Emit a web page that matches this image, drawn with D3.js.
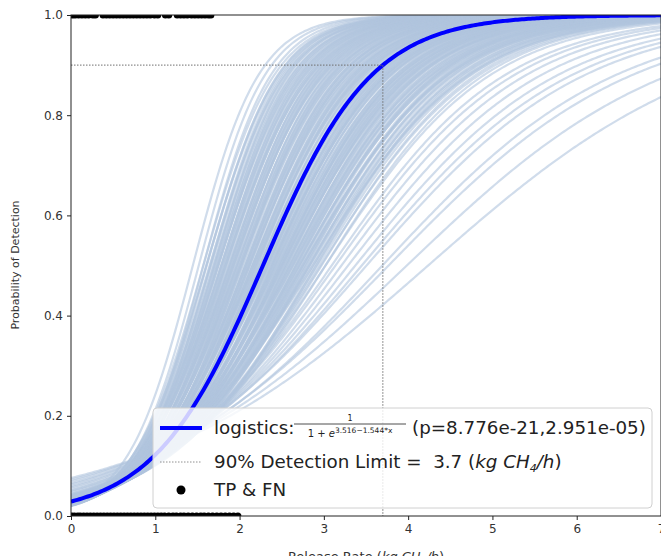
<!DOCTYPE html>
<html>
<head>
<meta charset="utf-8">
<script src="https://cdn.jsdelivr.net/npm/d3@7"></script>
<style>
  html, body { margin: 0; padding: 0; background: #fff; }
  svg { display: block; font-family: "DejaVu Sans", sans-serif; }
</style>
</head>
<body>
<svg id="chart" width="661" height="556"></svg>
<script>
// Axis ticks
const xTicks = [0, 1, 2, 3, 4, 5, 6, 7];
const yTicks = [0.0, 0.2, 0.4, 0.6, 0.8, 1.0];

// Fitted logistic model p = 1 / (1 + e^(a - b*x))
const fitIntercept = 3.516;
const fitSlope = 1.544;
const pValues = ["8.776e-21", "2.951e-05"];
const detectionLevel = 0.9;
const detectionLimit = 3.7;

// Release rates (kg CH4/h) of detected (TP) and missed (FN) releases
const detectedRates = [0.02, 0.05, 0.09, 0.13, 0.17, 0.21, 0.26, 0.29, 0.38, 0.42, 0.46, 0.50,
  0.54, 0.58, 0.62, 0.66, 0.70, 0.74, 0.78, 0.82, 0.86, 0.90, 0.94, 0.99, 1.03,
  1.12, 1.16, 1.26, 1.30, 1.34, 1.38, 1.43, 1.47, 1.51, 1.55, 1.59, 1.63, 1.66];
const missedRates = [0.01, 0.04, 0.08, 0.11, 0.15, 0.19, 0.23, 0.27, 0.31, 0.35, 0.39, 0.43,
  0.47, 0.51, 0.55, 0.59, 0.63, 0.67, 0.71, 0.75, 0.79, 0.83, 0.87, 0.91, 0.95,
  0.99, 1.03, 1.07, 1.11, 1.16, 1.21, 1.25, 1.30, 1.34, 1.39, 1.44, 1.49, 1.54,
  1.58, 1.63, 1.68, 1.73, 1.78, 1.83, 1.88, 1.93, 1.98];

// Bootstrap refits of the logistic model [intercept a, slope b], first resample set
const bootstrapFitsA = [
  [3.70, 2.56], [3.85, 2.54],
  [3.91, 2.49], [3.72, 2.37], [3.82, 2.37], [3.66, 2.28], [3.83, 2.31], [3.74, 2.25],
  [3.88, 2.28], [3.69, 2.18], [3.85, 2.22], [3.66, 2.13], [3.76, 2.15], [3.61, 2.07],
  [3.78, 2.12], [3.69, 2.07], [3.83, 2.11], [3.65, 2.03], [3.80, 2.07], [3.62, 1.99],
  [3.72, 2.01], [3.57, 1.95], [3.74, 1.99],
  [3.65, 1.95], [3.79, 1.98], [3.61, 1.91], [3.76, 1.95], [3.58, 1.88], [3.68, 1.90],
  [3.53, 1.84], [3.70, 1.88], [3.61, 1.84], [3.75, 1.87], [3.57, 1.80], [3.72, 1.84],
  [3.54, 1.77], [3.64, 1.79], [3.49, 1.73], [3.66, 1.77], [3.57, 1.74], [3.71, 1.77],
  [3.53, 1.70], [3.68, 1.74], [3.50, 1.68], [3.60, 1.70], [3.45, 1.64], [3.62, 1.68],
  [3.53, 1.65], [3.67, 1.68], [3.49, 1.62], [3.64, 1.65], [3.46, 1.59], [3.56, 1.61],
  [3.41, 1.56], [3.58, 1.60], [3.49, 1.56], [3.63, 1.59], [3.45, 1.53], [3.60, 1.57],
  [3.42, 1.51], [3.52, 1.53], [3.37, 1.48], [3.54, 1.52], [3.45, 1.49], [3.59, 1.51],
  [3.41, 1.46], [3.56, 1.49], [3.38, 1.44], [3.48, 1.46], [3.33, 1.41], [3.50, 1.45],
  [3.41, 1.42], [3.55, 1.44], [3.37, 1.39], [3.52, 1.42], [3.34, 1.37], [3.44, 1.39],
  [3.29, 1.34], [3.46, 1.38], [3.37, 1.35], [3.51, 1.38], [3.33, 1.33], [3.48, 1.36],
  [3.30, 1.31], [3.40, 1.33], [3.25, 1.28], [3.42, 1.32], [3.33, 1.29], [3.47, 1.32],
  [3.28, 1.26], [3.44, 1.29], [3.25, 1.24], [3.35, 1.25], [3.19, 1.21], [3.37, 1.24],
  [3.27, 1.21], [3.41, 1.24], [3.22, 1.19], [3.38, 1.21], [3.19, 1.16], [3.29, 1.18],
  [3.13, 1.14], [3.31, 1.17], [3.21, 1.14], [3.35, 1.16], [3.16, 1.11], [3.32, 1.14],
  [3.13, 1.09], [3.23, 1.11], [3.07, 1.07], [3.24, 1.09], [3.14, 1.06], [3.20, 1.06],
  [3.08, 1.02],
  [3.00, 0.97], [2.95, 0.94], [2.92, 0.91], [2.86, 0.87], [2.80, 0.83], [2.76, 0.80],
  [2.70, 0.77], [2.66, 0.72], [2.60, 0.69], [2.55, 0.64], [2.50, 0.59]
];

// Second resample set
const bootstrapFitsB = [
  [3.74, 2.33], [3.86, 2.34], [3.67, 2.23], [3.80, 2.25], [3.75, 2.19], [3.85, 2.20],
  [3.66, 2.10], [3.74, 2.10], [3.66, 2.04], [3.78, 2.05], [3.59, 1.96], [3.72, 1.98],
  [3.67, 1.94], [3.77, 1.94], [3.58, 1.86], [3.66, 1.86], [3.58, 1.81], [3.70, 1.83],
  [3.51, 1.75], [3.64, 1.76], [3.59, 1.73], [3.69, 1.74], [3.50, 1.66], [3.58, 1.66],
  [3.50, 1.62], [3.62, 1.64], [3.43, 1.57], [3.56, 1.59], [3.51, 1.55], [3.61, 1.57],
  [3.42, 1.50], [3.50, 1.50], [3.42, 1.47], [3.54, 1.48], [3.35, 1.42], [3.48, 1.44],
  [3.43, 1.41], [3.53, 1.42], [3.34, 1.36], [3.42, 1.37], [3.34, 1.33], [3.46, 1.35],
  [3.27, 1.29], [3.40, 1.31], [3.35, 1.29], [3.45, 1.30], [3.26, 1.24], [3.34, 1.25],
  [3.26, 1.22], [3.38, 1.24], [3.19, 1.18], [3.32, 1.20], [3.27, 1.18], [3.30, 1.17],
  [3.17, 1.12], [3.23, 1.10]
];

const bootstrapFits = bootstrapFitsA.concat(bootstrapFitsB);

const svg = d3.select("#chart");
const x = d3.scaleLinear().domain([0, 7]).range([71, 661]);
const y = d3.scaleLinear().domain([0, 1]).range([516, 15]);

const logistic = (a, b) => xv => 1 / (1 + Math.exp(a - b * xv));
const samples = d3.range(0, 7.0001, 0.025);
const curve = (a, b) => samples.map(xv => [xv, logistic(a, b)(xv)]);
const line = d3.line().x(d => x(d[0])).y(d => y(d[1]));

svg.append("defs").append("clipPath").attr("id", "plot-clip")
  .append("rect").attr("x", 71).attr("y", 15).attr("width", 590).attr("height", 501);

const plot = svg.append("g").attr("clip-path", "url(#plot-clip)");

// Bootstrap curves
plot.append("g").selectAll("path").data(bootstrapFits).join("path")
  .attr("d", d => line(curve(d[0], d[1])))
  .attr("fill", "none")
  .attr("stroke", "#b0c4de")
  .attr("stroke-opacity", 0.6)
  .attr("stroke-width", 2.2);

// Fitted curve
plot.append("path")
  .attr("d", line(curve(fitIntercept, fitSlope)))
  .attr("fill", "none")
  .attr("stroke", "#0000ff")
  .attr("stroke-width", 4);

// 90% detection guide lines
plot.append("path")
  .attr("d", line([[0, detectionLevel], [detectionLimit, detectionLevel], [detectionLimit, 0]]))
  .attr("fill", "none")
  .attr("stroke", "#707070")
  .attr("stroke-width", 1)
  .attr("stroke-dasharray", "1.5,1.5");

// Observations
plot.append("g").selectAll("circle")
  .data(detectedRates.map(r => [r, 1]).concat(missedRates.map(r => [r, 0])))
  .join("circle")
  .attr("cx", d => x(d[0]))
  .attr("cy", d => y(d[1]))
  .attr("r", 3.5)
  .attr("fill", "#000");

// Frame
svg.append("rect").attr("x", 71).attr("y", 15).attr("width", 590).attr("height", 501)
  .attr("fill", "none").attr("stroke", "#222").attr("stroke-width", 1);

// Axes
const xAxis = svg.append("g").attr("transform", "translate(0,516)")
  .call(d3.axisBottom(x).tickValues(xTicks).tickFormat(d3.format("d")).tickSize(4).tickPadding(4));
const yAxis = svg.append("g").attr("transform", "translate(71,0)")
  .call(d3.axisLeft(y).tickValues(yTicks).tickFormat(d3.format(".1f")).tickSize(4).tickPadding(4));
[xAxis, yAxis].forEach(g => {
  g.select(".domain").remove();
  g.selectAll("line").attr("stroke", "#222");
  g.selectAll("text").attr("fill", "#333").attr("font-size", 12)
    .attr("font-family", "DejaVu Sans, sans-serif");
});

// Axis titles
svg.append("text")
  .attr("transform", "translate(19,265) rotate(-90)")
  .attr("text-anchor", "middle")
  .attr("font-size", 11)
  .attr("fill", "#333")
  .text("Probability of Detection");

const xTitle = svg.append("text")
  .attr("x", 366).attr("y", 561)
  .attr("text-anchor", "middle")
  .attr("font-size", 13)
  .attr("fill", "#333");
xTitle.append("tspan").text("Release Rate (");
xTitle.append("tspan").attr("font-style", "italic").text("kg CH");
xTitle.append("tspan").attr("font-style", "italic").attr("font-size", 9).attr("dy", 3).text("4");
xTitle.append("tspan").attr("font-style", "italic").attr("dy", -3).text("/h");
xTitle.append("tspan").text(")");

// Legend
const legend = svg.append("g");
legend.append("rect")
  .attr("x", 153).attr("y", 408).attr("width", 499).attr("height", 100).attr("rx", 4)
  .attr("fill", "#fff").attr("fill-opacity", 0.8)
  .attr("stroke", "#d0d0d0").attr("stroke-width", 1);

legend.append("line").attr("x1", 160).attr("x2", 202).attr("y1", 428).attr("y2", 428)
  .attr("stroke", "#0000ff").attr("stroke-width", 4);
legend.append("line").attr("x1", 160).attr("x2", 202).attr("y1", 462).attr("y2", 462)
  .attr("stroke", "#909090").attr("stroke-width", 1).attr("stroke-dasharray", "1.5,1.5");
legend.append("circle").attr("cx", 181).attr("cy", 490).attr("r", 4.5).attr("fill", "#000");

const lf = 18.3;
legend.append("text").attr("x", 214).attr("y", 434).attr("font-size", lf).attr("fill", "#222")
  .text("logistics:");
// Fraction of the model formula
const fracX0 = 294, fracX1 = 406, fracMid = (fracX0 + fracX1) / 2;
legend.append("text").attr("x", fracMid).attr("y", 421).attr("text-anchor", "middle")
  .attr("font-size", 8).attr("fill", "#222").text("1");
legend.append("line").attr("x1", fracX0).attr("x2", fracX1).attr("y1", 424).attr("y2", 424)
  .attr("stroke", "#222").attr("stroke-width", 0.8);
const den = legend.append("text").attr("x", fracMid).attr("y", 437)
  .attr("text-anchor", "middle")
  .attr("font-size", 10).attr("fill", "#222");
den.append("tspan").text("1 + ");
den.append("tspan").attr("font-style", "italic").text("e");
den.append("tspan").attr("font-size", 7.5).attr("dy", -4)
  .text(`${fitIntercept.toFixed(3)}\u2212${fitSlope.toFixed(3)}*x`);
legend.append("text").attr("x", 412).attr("y", 434).attr("font-size", lf).attr("fill", "#222")
  .text(`(p=${pValues[0]},${pValues[1]})`);

const lim = legend.append("text").attr("x", 214).attr("y", 468).attr("font-size", lf).attr("fill", "#222");
lim.append("tspan").text(`${Math.round(detectionLevel * 100)}% Detection Limit =\u00a0\u00a0${detectionLimit.toFixed(1)} (`);
lim.append("tspan").attr("font-style", "italic").text("kg CH");
lim.append("tspan").attr("font-style", "italic").attr("font-size", 11).attr("dy", 4).text("4");
lim.append("tspan").attr("font-style", "italic").attr("dy", -4).text("/h");
lim.append("tspan").text(")");

legend.append("text").attr("x", 214).attr("y", 496).attr("font-size", lf).attr("fill", "#222")
  .text("TP & FN");
</script>
</body>
</html>
